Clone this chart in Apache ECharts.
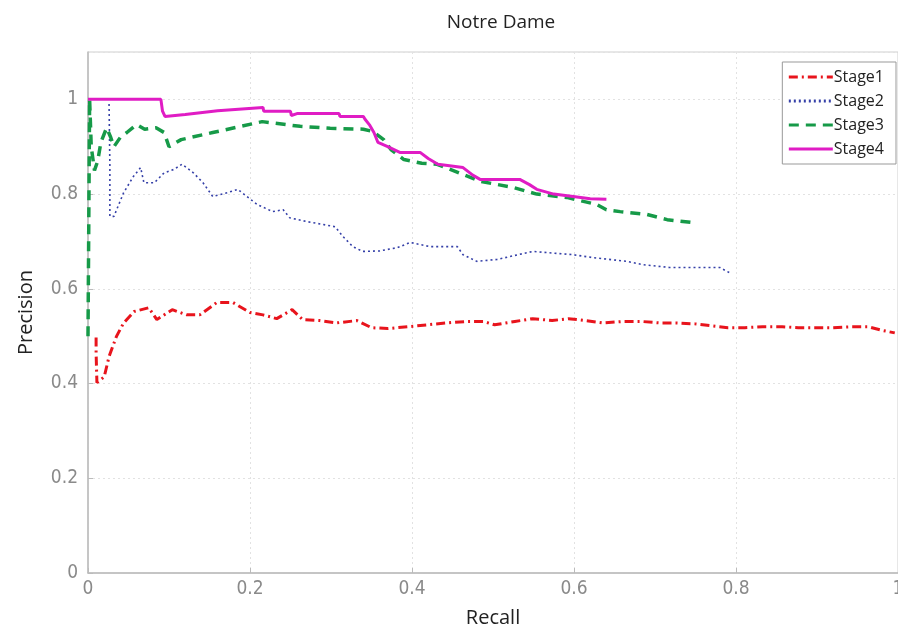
<!DOCTYPE html>
<html><head><meta charset="utf-8">
<script src="https://cdn.jsdelivr.net/npm/echarts@6/dist/echarts.min.js"></script>
<style>html,body{margin:0;padding:0;background:#fff;overflow:hidden}#c{width:898px;height:632px}</style>
</head><body><div id="c"></div>
<script>
const seriesNames = ['Stage1','Stage2','Stage3','Stage4'];
const xTicks = [0, 0.2, 0.4, 0.6, 0.8, 1];
const yTicks = [0, 0.2, 0.4, 0.6, 0.8, 1];

const stage1 = [[0.01,0.497],[0.01,0.465],[0.011,0.402],[0.02,0.414],[0.026,0.457],[0.035,0.499],[0.044,0.528],[0.057,0.552],[0.075,0.56],[0.085,0.535],[0.104,0.556],[0.122,0.545],[0.138,0.545],[0.159,0.571],[0.179,0.571],[0.2,0.55],[0.216,0.545],[0.233,0.537],[0.252,0.556],[0.265,0.535],[0.286,0.533],[0.307,0.528],[0.332,0.533],[0.35,0.518],[0.37,0.516],[0.395,0.52],[0.419,0.524],[0.443,0.528],[0.468,0.531],[0.488,0.531],[0.502,0.524],[0.527,0.531],[0.549,0.537],[0.573,0.533],[0.593,0.537],[0.614,0.533],[0.636,0.528],[0.66,0.531],[0.684,0.531],[0.706,0.528],[0.727,0.528],[0.749,0.526],[0.77,0.522],[0.79,0.518],[0.811,0.518],[0.833,0.52],[0.857,0.52],[0.877,0.518],[0.9,0.518],[0.92,0.518],[0.943,0.52],[0.963,0.52],[0.981,0.512],[0.996,0.507]];

const stage2 = [[0.026,0.99],[0.027,0.86],[0.027,0.753],[0.032,0.753],[0.044,0.803],[0.056,0.837],[0.065,0.856],[0.069,0.824],[0.082,0.824],[0.094,0.845],[0.106,0.852],[0.116,0.863],[0.13,0.845],[0.142,0.824],[0.154,0.795],[0.172,0.803],[0.185,0.81],[0.196,0.795],[0.209,0.778],[0.228,0.763],[0.241,0.767],[0.249,0.75],[0.27,0.742],[0.29,0.736],[0.305,0.731],[0.315,0.71],[0.327,0.689],[0.339,0.679],[0.36,0.68],[0.382,0.687],[0.398,0.698],[0.422,0.689],[0.456,0.689],[0.463,0.672],[0.48,0.658],[0.505,0.662],[0.549,0.679],[0.599,0.672],[0.623,0.666],[0.665,0.658],[0.685,0.651],[0.718,0.645],[0.755,0.645],[0.78,0.645],[0.792,0.634]];

const stage3 = [[0,0.5],[0.002,1.0],[0.004,0.9],[0.008,0.85],[0.012,0.87],[0.016,0.91],[0.023,0.94],[0.028,0.92],[0.032,0.9],[0.04,0.92],[0.048,0.93],[0.06,0.947],[0.07,0.937],[0.084,0.94],[0.094,0.93],[0.1,0.9],[0.115,0.915],[0.154,0.93],[0.215,0.953],[0.262,0.943],[0.299,0.939],[0.34,0.937],[0.352,0.932],[0.365,0.915],[0.374,0.894],[0.39,0.873],[0.412,0.865],[0.431,0.863],[0.484,0.827],[0.525,0.814],[0.554,0.8],[0.591,0.793],[0.628,0.778],[0.64,0.767],[0.657,0.763],[0.69,0.757],[0.715,0.746],[0.746,0.74]];

const stage4 = [[0,1.0],[0.09,1.0],[0.092,0.975],[0.095,0.964],[0.12,0.968],[0.16,0.976],[0.216,0.983],[0.217,0.975],[0.25,0.975],[0.251,0.966],[0.258,0.97],[0.31,0.97],[0.311,0.964],[0.34,0.964],[0.342,0.958],[0.348,0.945],[0.353,0.93],[0.358,0.909],[0.37,0.9],[0.385,0.888],[0.41,0.888],[0.42,0.875],[0.432,0.863],[0.463,0.856],[0.475,0.84],[0.484,0.831],[0.533,0.831],[0.545,0.82],[0.554,0.81],[0.575,0.8],[0.599,0.795],[0.62,0.79],[0.64,0.789]];

const tickFont = "'Liberation Sans Narrow','DejaVu Sans Condensed',sans-serif";
const fmt = v => {
  const t = (xTicks.concat(yTicks)).find(k => Math.abs(k - v) < 1e-6);
  return t === undefined ? '' : String(t);
};

const chart = echarts.init(document.getElementById('c'));
const mk = (name, data, color, width, type) => ({
  name, type: 'line', data, symbol: 'none', showSymbol: false, smooth: false,
  lineStyle: { color, width, type }, itemStyle: { color }, animation: false
});
chart.setOption({
  animation: false,
  title: { text: 'Notre Dame', left: 496, top: 8, textAlign: 'center',
    textStyle: { fontFamily: "'Open Sans',sans-serif", fontSize: 19, fontWeight: 'normal', color: '#222' } },
  grid: { left: 88, right: 0, top: 52, bottom: 59, show: true, borderColor: '#cfcfcf', borderWidth: 1,
    containLabel: false, outerBoundsMode: 'none' },
  legend: {
    data: seriesNames, orient: 'vertical', right: 2, top: 62,
    backgroundColor: '#fff', borderColor: '#999', borderWidth: 1, padding: [7, 12, 7, 5],
    itemWidth: 44, itemHeight: 12, itemGap: 8,
    itemStyle: { opacity: 0 },
    lineStyle: { width: 3 },
    textStyle: { fontFamily: "'Open Sans',sans-serif", fontSize: 16, color: '#222', padding: [0,0,0,-4] }
  },
  xAxis: {
    type: 'value', min: 0, max: 1, interval: 0.2,
    name: 'Recall', nameLocation: 'middle', nameGap: 35,
    nameTextStyle: { fontFamily: "'Open Sans',sans-serif", fontSize: 20, color: '#222' },
    axisLine: { show: true, onZero: false, lineStyle: { color: '#bbb', width: 1.5 } },
    axisTick: { show: true, inside: true, length: 5, lineStyle: { color: '#bbb' } },
    axisLabel: { formatter: fmt, fontFamily: tickFont, fontSize: 19, color: '#8a8a8a', margin: 7 },
    splitLine: { show: true, lineStyle: { color: '#e2e2e2', type: [2, 3], width: 1 } }
  },
  yAxis: {
    type: 'value', min: 0, max: 1.1, interval: 0.2,
    name: 'Precision', nameLocation: 'middle', nameGap: 52,
    nameTextStyle: { fontFamily: "'Open Sans',sans-serif", fontSize: 20, color: '#222' },
    axisLine: { show: true, onZero: false, lineStyle: { color: '#bbb', width: 1.5 } },
    axisTick: { show: true, inside: true, length: 5, lineStyle: { color: '#bbb' } },
    axisLabel: { formatter: fmt, fontFamily: tickFont, fontSize: 19, color: '#8a8a8a', margin: 10, showMaxLabel: false },
    splitLine: { show: true, lineStyle: { color: '#e2e2e2', type: [2, 3], width: 1 } }
  },
  series: [
    mk('Stage1', stage1, '#e8141c', 3, [9, 4, 2, 4]),
    mk('Stage2', stage2, '#3540a8', 1.6, [2, 3]),
    mk('Stage3', stage3, '#169a48', 3.5, [10, 7]),
    mk('Stage4', stage4, '#e01cc4', 3, 'solid')
  ]
});
</script></body></html>
